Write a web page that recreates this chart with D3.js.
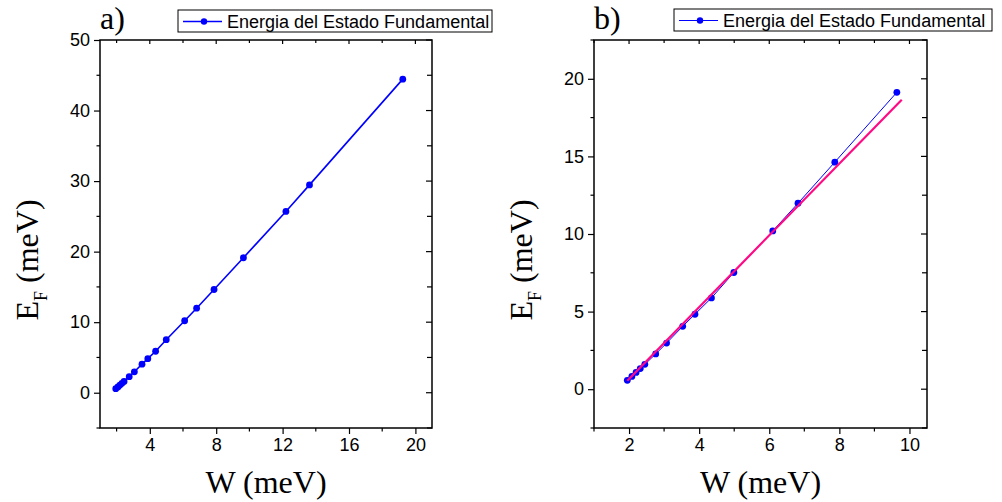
<!DOCTYPE html>
<html>
<head>
<meta charset="utf-8">
<script src="https://cdn.jsdelivr.net/npm/d3@7"></script>
<style>
  body { margin: 0; background: #fff; }
  svg { display: block; }
</style>
</head>
<body>
<svg id="chart" width="1002" height="502"></svg>
<script>
// Ground state energy vs W (meV)
const wValues = [1.95, 2.08, 2.2, 2.32, 2.45, 2.76, 3.07, 3.53, 3.88, 4.35, 4.99, 6.1, 6.82, 7.87, 9.64, 12.2, 13.62, 19.24];
const eValues = [0.57, 0.82, 1.08, 1.33, 1.6, 2.27, 2.97, 4.05, 4.83, 5.88, 7.52, 10.2, 11.98, 14.63, 19.13, 25.7, 29.46, 44.45];
// Linear fit shown in panel b
const fitW = [1.95, 9.78];
const fitE = [0.55, 18.65];
// Tick values
const xTicksA = [4, 8, 12, 16, 20];
const yTicksA = [0, 10, 20, 30, 40, 50];
const xTicksB = [2, 4, 6, 8, 10];
const yTicksB = [0, 5, 10, 15, 20];
const legendLabel = "Energia del Estado Fundamental";
const panelLabels = ["a)", "b)"];

const svg = d3.select("#chart");
const BLUE = "#0000ff";
const PINK = "#ff0a84";

function drawPanel(o) {
  const g = svg.append("g");
  const x = d3.scaleLinear().domain(o.xDomain).range([o.left, o.right]);
  const y = d3.scaleLinear().domain(o.yDomain).range([o.bottom, o.top]);

  const pts = wValues.map((w, i) => ({w, e: eValues[i]})).filter(d => d.w <= o.xDomain[1]);

  // minor tick arrays
  const xMinor = d3.range(o.xMinorStart, o.xDomain[1] + 1e-9, o.xMinorStep);
  const yMinor = d3.range(o.yMinorStart, o.yDomain[1] + 1e-9, o.yMinorStep);

  // bottom axis (outward)
  const bottomAxis = d3.axisBottom(x).tickValues(o.xTicks).tickSize(6).tickPadding(4).tickFormat(d3.format("d"));
  const gb = g.append("g").attr("transform", `translate(0,${o.bottom})`).call(bottomAxis);
  gb.select(".domain").remove();
  gb.selectAll("text").attr("font-family", "Liberation Sans, Arial, sans-serif").attr("font-size", 18).attr("fill", "#000");
  gb.selectAll("line").attr("stroke", "#000").attr("stroke-width", 1.2);
  g.append("g").selectAll("line").data(xMinor.filter(v => !o.xTicks.includes(v))).join("line")
    .attr("x1", d => x(d)).attr("x2", d => x(d)).attr("y1", o.bottom).attr("y2", o.bottom + 3.5)
    .attr("stroke", "#000").attr("stroke-width", 1.2);

  // left axis (outward)
  const leftAxis = d3.axisLeft(y).tickValues(o.yTicks).tickSize(6).tickPadding(4).tickFormat(d3.format("d"));
  const gl = g.append("g").attr("transform", `translate(${o.left},0)`).call(leftAxis);
  gl.select(".domain").remove();
  gl.selectAll("text").attr("font-family", "Liberation Sans, Arial, sans-serif").attr("font-size", 18).attr("fill", "#000");
  gl.selectAll("line").attr("stroke", "#000").attr("stroke-width", 1.2);
  g.append("g").selectAll("line").data(yMinor.filter(v => !o.yTicks.includes(v))).join("line")
    .attr("x1", o.left - 3.5).attr("x2", o.left).attr("y1", d => y(d)).attr("y2", d => y(d))
    .attr("stroke", "#000").attr("stroke-width", 1.2);

  // top and right mirrored ticks (inward)
  g.append("g").selectAll("line").data(xMinor).join("line")
    .attr("x1", d => x(d)).attr("x2", d => x(d)).attr("y1", o.top).attr("y2", d => o.top + (o.xTicks.includes(d) ? 4 : 3))
    .attr("stroke", "#000").attr("stroke-width", 1.2);
  g.append("g").selectAll("line").data(yMinor).join("line")
    .attr("x1", d => o.right - (o.yTicks.includes(d) ? 6 : 5)).attr("x2", o.right).attr("y1", d => y(d)).attr("y2", d => y(d))
    .attr("stroke", "#000").attr("stroke-width", 1.2);

  // frame
  g.append("rect").attr("x", o.left).attr("y", o.top).attr("width", o.right - o.left).attr("height", o.bottom - o.top)
    .attr("fill", "none").attr("stroke", "#000").attr("stroke-width", 1.5);

  // data line
  const line = d3.line().x(d => x(d.w)).y(d => y(d.e));
  g.append("path").datum(pts).attr("d", line).attr("fill", "none").attr("stroke", BLUE).attr("stroke-width", o.lineWidth);
  g.append("g").selectAll("circle").data(pts).join("circle")
    .attr("cx", d => x(d.w)).attr("cy", d => y(d.e)).attr("r", 3.4).attr("fill", BLUE);

  // fit line
  if (o.fit) {
    const fitPts = fitW.map((w, i) => ({w, e: fitE[i]}));
    g.append("path").datum(fitPts).attr("d", line).attr("fill", "none").attr("stroke", PINK).attr("stroke-width", 2.2);
  }

  // axis titles
  const cx = (o.left + o.right) / 2;
  g.append("text").attr("x", cx).attr("y", 493).attr("text-anchor", "middle")
    .attr("font-family", "Liberation Serif, Times New Roman, serif").attr("font-size", 32).attr("fill", "#000")
    .text("W (meV)");
  const yt = g.append("text").attr("transform", `translate(${o.left - 62},260) rotate(-90)`).attr("text-anchor", "middle")
    .attr("font-family", "Liberation Serif, Times New Roman, serif").attr("font-size", 32).attr("fill", "#000");
  yt.append("tspan").text("E");
  yt.append("tspan").attr("font-size", 18).attr("dy", 9).text("F");
  yt.append("tspan").attr("dy", -9).text(" (meV)");

  // panel label
  g.append("text").attr("x", o.left).attr("y", 29)
    .attr("font-family", "Liberation Serif, Times New Roman, serif").attr("font-size", 32).attr("fill", "#000")
    .text(o.label);

  // legend
  const L = o.legend;
  g.append("rect").attr("x", L.x).attr("y", L.y).attr("width", L.w).attr("height", L.h)
    .attr("fill", "#fff").attr("stroke", "#000").attr("stroke-width", 1);
  const ly = L.y + L.h / 2 + 0.5;
  g.append("line").attr("x1", L.x + 5).attr("x2", L.x + 44).attr("y1", ly).attr("y2", ly)
    .attr("stroke", BLUE).attr("stroke-width", o.lineWidth);
  g.append("circle").attr("cx", L.x + 26).attr("cy", ly).attr("r", 3.2).attr("fill", BLUE);
  g.append("text").attr("x", L.x + 49).attr("y", ly + 6.5)
    .attr("font-family", "Liberation Sans, Arial, sans-serif").attr("font-size", 18).attr("fill", "#000")
    .text(legendLabel);
}

drawPanel({
  left: 100, right: 432, top: 40, bottom: 428,
  xDomain: [1, 21], yDomain: [-5, 50],
  xTicks: xTicksA, yTicks: yTicksA,
  xMinorStart: 2, xMinorStep: 2, yMinorStart: -5, yMinorStep: 5,
  lineWidth: 1.6, fit: false, label: panelLabels[0],
  legend: {x: 178, y: 10, w: 314, h: 22}
});

drawPanel({
  left: 594, right: 927, top: 40, bottom: 428,
  xDomain: [1, 10.5], yDomain: [-2.5, 22.5],
  xTicks: xTicksB, yTicks: yTicksB,
  xMinorStart: 1, xMinorStep: 1, yMinorStart: -2.5, yMinorStep: 2.5,
  lineWidth: 1, fit: true, label: panelLabels[1],
  legend: {x: 674, y: 9, w: 318, h: 22}
});
</script>
</body>
</html>
